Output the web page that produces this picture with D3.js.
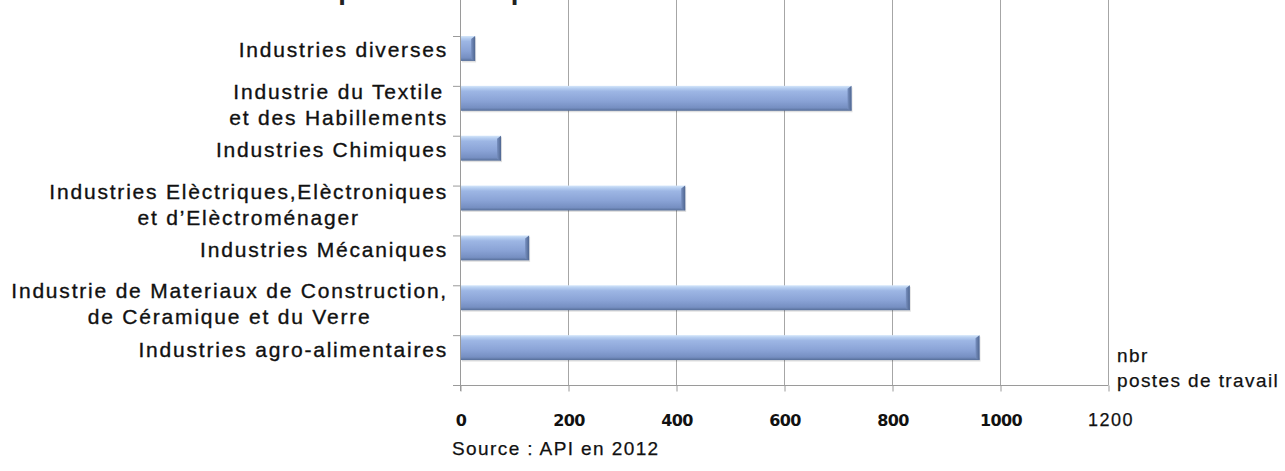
<!DOCTYPE html>
<html>
<head>
<meta charset="utf-8">
<script src="https://cdn.jsdelivr.net/npm/d3@7"></script>
<style>
  body { margin: 0; background: #fff; }
  svg { display: block; }
  .catLabel { font-family: "Liberation Sans", Arial, sans-serif; font-size: 21px; letter-spacing: 1.8px; fill: #111; stroke: #111; stroke-width: 0.35px; }
  .tickText { font-family: "DejaVu Sans", sans-serif; font-weight: bold; font-size: 16px; letter-spacing: -0.6px; fill: #111; }
  .noteText { font-family: "Liberation Sans", Arial, sans-serif; font-size: 19px; letter-spacing: 1.4px; fill: #111; stroke: #111; stroke-width: 0.25px; }
</style>
</head>
<body>
<div id="chart"></div>
<script>
// data, top to bottom
var categories = [
    "Industries diverses",
    "Industrie du Textile\net des Habillements",
    "Industries Chimiques",
    "Industries Elèctriques,Elèctroniques\net d\u2019Elèctroménager",
    "Industries Mécaniques",
    "Industrie de Materiaux de Construction,\nde Céramique et du Verre",
    "Industries agro-alimentaires"
];
var postes = [28, 725, 76, 417, 128, 833, 962];
var tickValues = [0, 200, 400, 600, 800, 1000, 1200];

var svgWidth = 1285;
var svgHeight = 471;

var svg = d3.select("#chart")
    .append("svg")
    .attr("width", svgWidth)
    .attr("height", svgHeight);

// gradient for the bevelled bars
var defs = svg.append("defs");
var grad = defs.append("linearGradient")
    .attr("id", "barGrad")
    .attr("x1", 0).attr("y1", 0).attr("x2", 0).attr("y2", 1);
[[0, "#d4e6fa"], [0.1, "#b5cdf0"], [0.22, "#9db6e4"], [0.6, "#8aa3d6"], [0.88, "#768fc2"], [1, "#566e98"]]
    .forEach(function(s) { grad.append("stop").attr("offset", s[0]).attr("stop-color", s[1]); });

var endGrad = defs.append("linearGradient")
    .attr("id", "endGrad")
    .attr("x1", 0).attr("y1", 0).attr("x2", 1).attr("y2", 0);
endGrad.append("stop").attr("offset", 0).attr("stop-color", "#7890c0");
endGrad.append("stop").attr("offset", 1).attr("stop-color", "#4f6690");

var xScale = d3.scaleLinear()
    .domain([0, 1200])
    .range([460, 1108]);

var yScale = d3.scaleBand()
    .domain(categories)
    .range([36, 385])
    .padding(0);

var barH = yScale.bandwidth() * 0.5;
var axisY = yScale.range()[1];

// title, cut off by the top edge of the picture
svg.append("text")
    .attr("x", 303)
    .attr("y", 0)
    .attr("textLength", 822)
    .attr("lengthAdjust", "spacingAndGlyphs")
    .style("font-family", "Liberation Sans, Arial, sans-serif")
    .style("font-weight", "bold")
    .style("font-size", "26px")
    .style("fill", "#222")
    .text("Répartition des postes de travail selon les branches d\u2019activités");

// vertical gridlines
svg.append("g")
    .selectAll("line")
    .data(tickValues.slice(1))
    .enter()
    .append("line")
    .attr("x1", d => xScale(d) + 0.5)
    .attr("x2", d => xScale(d) + 0.5)
    .attr("y1", 0)
    .attr("y2", axisY)
    .attr("stroke", "#a6a6a6")
    .attr("stroke-width", 1);

// bottom axis
var bottomAxis = d3.axisBottom(xScale)
    .tickValues(tickValues)
    .tickSize(6)
    .tickSizeOuter(0)
    .tickFormat(d3.format("d"));

var xAxis = svg.append("g")
    .attr("transform", `translate(0.5, ${axisY + 0.5})`)
    .call(bottomAxis);

xAxis.select(".domain").attr("stroke", "#9a9a9a").attr("d", `M${xScale(0) - 7},0H${xScale(1200)}`);
xAxis.selectAll(".tick line").attr("stroke", "#9a9a9a");
xAxis.selectAll(".tick text")
    .attr("class", "tickText")
    .attr("y", 0)
    .attr("dy", 0)
    .attr("transform", "translate(0, 40)")
    .attr("font-family", null)
    .attr("font-size", null);
// last label is in a plain font in the source picture
xAxis.selectAll(".tick text")
    .filter(d => d === 1200)
    .attr("class", "noteText")
    .attr("transform", "translate(2, 40)")
    .style("font-size", "18px")
    .style("letter-spacing", "1.5px");

// left axis line with ticks at category boundaries
svg.append("line")
    .attr("x1", 460.5).attr("x2", 460.5)
    .attr("y1", 0).attr("y2", axisY + 6)
    .attr("stroke", "#9a9a9a");

var bounds = categories.map(c => yScale(c)).concat([axisY]);
svg.append("g")
    .selectAll("line")
    .data(bounds)
    .enter()
    .append("line")
    .attr("x1", 453)
    .attr("x2", 460)
    .attr("y1", d => d + 0.5)
    .attr("y2", d => d + 0.5)
    .attr("stroke", "#9a9a9a");

// bars
var barGroup = svg.append("g");
categories.forEach(function(cat, i) {
    var x0 = xScale(0) + 1;
    var x1 = xScale(postes[i]);
    var y0 = yScale(cat);
    var w = x1 - x0;
    // soft shadow
    barGroup.append("rect")
        .attr("x", x0 + 1).attr("y", y0 + 1.5)
        .attr("width", w).attr("height", barH)
        .attr("fill", "#000").attr("opacity", 0.12);
    barGroup.append("rect")
        .attr("x", x0).attr("y", y0)
        .attr("width", w).attr("height", barH)
        .attr("fill", "url(#barGrad)");
    // right bevel
    var bev = Math.min(4, w / 3);
    barGroup.append("polygon")
        .attr("points", [[x1 - bev, y0 + 3], [x1, y0], [x1, y0 + barH], [x1 - bev, y0 + barH - 2]].join(" "))
        .attr("fill", "url(#endGrad)");
});

// category labels (right edge ~448, lines centred in the block)
var labelRight = 448;
categories.forEach(function(cat) {
    var lines = cat.split("\n");
    var g = svg.append("g");
    var texts = lines.map(function(line, j) {
        return g.append("text")
            .attr("class", "catLabel")
            .attr("text-anchor", "middle")
            .attr("y", lines.length === 1 ? yScale(cat) + barH / 2 + 9 : yScale(cat) + barH / 2 + 0.5 + j * 26)
            .text(line);
    });
    var maxW = d3.max(texts, t => t.node().getComputedTextLength());
    texts.forEach(t => t.attr("x", labelRight - maxW / 2));
});

// unit note
svg.append("text").attr("class", "noteText").attr("x", 1117).attr("y", 362).text("nbr");
svg.append("text").attr("class", "noteText").attr("x", 1117).attr("y", 387).text("postes de travail");

// source
svg.append("text").attr("class", "noteText").attr("x", 452).attr("y", 455).text("Source : API en 2012");
</script>
</body>
</html>
